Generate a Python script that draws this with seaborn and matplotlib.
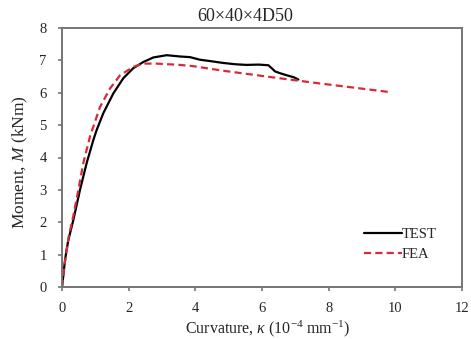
import matplotlib
matplotlib.use("Agg")
import matplotlib.pyplot as plt
import seaborn as sns
import pandas as pd

# Data (curvature in 1e-4 mm^-1, moment in kNm)
test_k = [0, 0.04, 0.08, 0.13, 0.19, 0.34, 0.54, 0.74, 0.94, 1.04, 1.24, 1.54, 1.84, 2.14, 2.44, 2.74,
          3.14, 3.54, 3.84, 4.14, 4.5, 4.84, 5.2, 5.54, 5.9, 6.19, 6.3, 6.39, 6.55, 6.74, 6.95, 7.09]
test_m = [0, 0.35, 0.74, 1.1, 1.45, 2.07, 3.0, 3.83, 4.54, 4.85, 5.37, 5.98, 6.45, 6.76, 6.95, 7.09,
          7.16, 7.12, 7.1, 7.02, 6.97, 6.92, 6.88, 6.86, 6.87, 6.85, 6.75, 6.66, 6.6, 6.54, 6.48, 6.41]
fea_k = [0, 0.09, 0.2, 0.34, 0.49, 0.64, 0.84, 1.14, 1.44, 1.74, 2.14, 2.44, 2.84, 3.54, 3.94, 4.84,
         6.14, 7.64, 9.84]
fea_m = [0, 0.8, 1.55, 2.2, 3.0, 3.83, 4.65, 5.56, 6.13, 6.54, 6.8, 6.9, 6.9, 6.86, 6.82, 6.68,
         6.5, 6.3, 6.02]
series_names = ["TEST", "FEA"]
title = "60×40×4D50"
xlabel = r"Curvature, $\kappa$ (10$^{-4}$ mm$^{-1}$)"
ylabel = r"Moment, $M$ (kNm)"

df = pd.concat([
    pd.DataFrame({"k": test_k, "m": test_m, "s": series_names[0]}),
    pd.DataFrame({"k": fea_k, "m": fea_m, "s": series_names[1]}),
])

sns.set_style("white")
plt.rcParams["font.family"] = ["Liberation Serif", "DejaVu Serif"]
plt.rcParams["mathtext.fontset"] = "custom"
plt.rcParams["mathtext.rm"] = "Liberation Serif"
plt.rcParams["mathtext.it"] = "Liberation Serif:italic"

W, H = 471, 339
fig = plt.figure(figsize=(W / 100, H / 100), dpi=100)
ax = fig.add_axes([62 / W, 52 / H, 400 / W, 259 / H])

sns.lineplot(data=df, x="k", y="m", hue="s", style="s", sort=False, estimator=None,
             palette={"TEST": "black", "FEA": "#d62a38"},
             dashes={"TEST": "", "FEA": (3.2, 1.9)}, linewidth=1.6, ax=ax)

ax.set_xlim(0, 12)
ax.set_ylim(0, 8)
ax.set_xticks(range(0, 13, 2))
ax.set_yticks(range(0, 9))
for sp in ax.spines.values():
    sp.set_color("#757575")
    sp.set_linewidth(1.4)
ax.tick_params(axis="both", direction="out", length=3, width=1.2, color="#757575",
               labelsize=10.5, left=True, bottom=True)
ax.tick_params(axis="x", pad=8)
ax.tick_params(axis="y", pad=8)
ax.set_xlabel("")
ax.set_ylabel("")
fig.text(268 / W, 1 - 333 / H, xlabel, fontsize=11.5, ha="center", va="baseline")
fig.text(20 / W, 1 - 162 / H, ylabel, fontsize=12.5, ha="center", va="center", rotation=90)
fig.text(245 / W, 1 - 21 / H, title, fontsize=13, ha="center", va="baseline")

leg = ax.legend(title=None, loc="lower right", bbox_to_anchor=(0.97, 0.05), frameon=False,
                fontsize=10.5, handlelength=2.6, handletextpad=0.0, labelspacing=0.45)

fig.savefig("out.png", dpi=100)
